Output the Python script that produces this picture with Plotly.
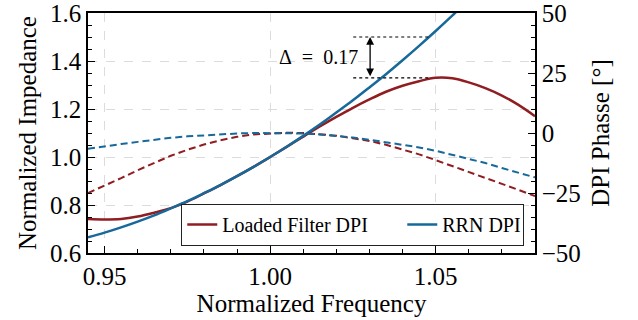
import plotly.graph_objects as go

# Normalized frequency samples
freq = [0.945, 0.950, 0.955, 0.960, 0.965, 0.970, 0.975, 0.980, 0.985, 0.990,
        0.995, 1.000, 1.005, 1.010, 1.015, 1.020, 1.025, 1.030, 1.035, 1.040,
        1.045, 1.050, 1.055, 1.060, 1.065, 1.070, 1.075, 1.080]

# Normalized impedance (left axis)
loaded_impedance = [0.742, 0.740, 0.742, 0.752, 0.768, 0.787, 0.814, 0.848, 0.883, 0.920,
                    0.959, 1.000, 1.042, 1.085, 1.127, 1.167, 1.205, 1.240, 1.272, 1.297,
                    1.316, 1.330, 1.328, 1.311, 1.287, 1.256, 1.217, 1.170]
rrn_impedance = [0.665, 0.685, 0.707, 0.731, 0.757, 0.786, 0.816, 0.849, 0.883, 0.920,
                 0.959, 1.000, 1.043, 1.088, 1.135, 1.185, 1.236, 1.290, 1.345, 1.403,
                 1.463, 1.525, 1.589, 1.655, 1.720, 1.790, 1.860, 1.930]

# DPI phase in degrees (right axis)
loaded_phase = [-25.0, -22.0, -18.8, -15.5, -12.4, -9.5, -7.0, -4.8, -3.0, -1.6,
                -0.6, -0.1, 0.1, 0.0, -0.4, -1.1, -2.2, -3.3, -4.9, -6.8,
                -8.9, -11.3, -13.7, -16.3, -18.8, -21.2, -23.7, -26.3]
rrn_phase = [-6.6, -5.5, -4.6, -3.7, -2.8, -2.0, -1.4, -0.9, -0.5, -0.2,
             0.0, 0.0, 0.0, -0.2, -0.6, -1.1, -1.9, -2.8, -3.8, -4.8,
             -6.0, -7.4, -9.0, -10.8, -12.5, -14.6, -16.5, -18.5]

# Tick positions and labels
freq_ticks = [0.95, 1.00, 1.05]
freq_labels = ["0.95", "1.00", "1.05"]
imp_ticks = [0.6, 0.8, 1.0, 1.2, 1.4, 1.6]
imp_labels = ["0.6", "0.8", "1.0", "1.2", "1.4", "1.6"]
phase_ticks = [-50, -25, 0, 25, 50]
phase_labels = ["\u221250", "\u221225", "0", "25", "50"]

# Impedance gap marker
delta_top = 1.50
delta_bottom = 1.33
delta_x = [1.0251, 1.0479]
delta_arrow_x = 1.0302

RED = "#8f1d21"
BLUE = "#16699a"
FONT = "'Liberation Serif', 'Times New Roman', serif"

fig = go.Figure()

fig.add_trace(go.Scatter(x=freq, y=loaded_phase, yaxis="y2", mode="lines",
                         line=dict(color=RED, width=2, dash="7px,4px"),
                         showlegend=False))
fig.add_trace(go.Scatter(x=freq, y=rrn_phase, yaxis="y2", mode="lines",
                         line=dict(color=BLUE, width=2, dash="7px,4px"),
                         showlegend=False))
fig.add_trace(go.Scatter(x=freq, y=loaded_impedance, mode="lines", line_shape="spline",
                         line=dict(color=RED, width=2.5), name="Loaded Filter DPI",
                         legendwidth=175))
fig.add_trace(go.Scatter(x=freq, y=rrn_impedance, mode="lines", line_shape="spline",
                         line=dict(color=BLUE, width=2.5), name="RRN DPI",
                         legendwidth=75))

# Dotted reference levels and double-headed arrow
for level in (delta_top, delta_bottom):
    fig.add_shape(type="line", x0=delta_x[0], x1=delta_x[1], y0=level, y1=level,
                  xref="x", yref="y", line=dict(color="black", width=1.2, dash="dot"))
fig.add_annotation(x=delta_arrow_x, y=delta_top, ax=delta_arrow_x, ay=delta_bottom,
                   xref="x", yref="y", axref="x", ayref="y", text="",
                   showarrow=True, arrowhead=2, arrowside="end+start",
                   arrowsize=1.2, arrowwidth=1.3, arrowcolor="black")
fig.add_annotation(x=1.0272, y=1.415, xref="x", yref="y", xanchor="right",
                   yanchor="middle", showarrow=False,
                   text=f"Δ\u2002=\u2002{delta_top - delta_bottom:.2f}",
                   font=dict(family=FONT, size=20, color="black"))

axis_common = dict(showline=True, linecolor="black", linewidth=1.5,
                   ticks="inside", ticklen=7, tickwidth=1.3, tickcolor="black",
                   tickfont=dict(family=FONT, size=25, color="black"),
                   zeroline=False, automargin=False, ticklabeloverflow="allow",
                   tickmode="array")

fig.update_layout(
    width=638, height=320,
    margin=dict(l=88, r=103, t=13, b=67, autoexpand=False),
    paper_bgcolor="white", plot_bgcolor="white",
    font=dict(family=FONT, color="black"),
    xaxis=dict(range=[0.945, 1.08], tickvals=freq_ticks, ticktext=freq_labels,
               mirror=True, showgrid=True, gridcolor="#dcdcdc", griddash="dash",
               gridwidth=1,
               minor=dict(dtick=0.01, tick0=0.95, ticks="inside", ticklen=4,
                          tickwidth=1.2, tickcolor="black", showgrid=False),
               title=dict(text="Normalized Frequency", font=dict(family=FONT, size=25),
                          standoff=5),
               **axis_common),
    yaxis=dict(range=[0.6, 1.6], tickvals=imp_ticks, ticktext=imp_labels,
               showgrid=True, gridcolor="#dcdcdc", griddash="dash", gridwidth=1,
               minor=dict(dtick=0.05, tick0=0.6, ticks="inside", ticklen=4,
                          tickwidth=1.2, tickcolor="black", showgrid=False),
               title=dict(text="Normalized Impedance", font=dict(family=FONT, size=25),
                          standoff=6),
               **axis_common),
    yaxis2=dict(range=[-50, 50], tickvals=phase_ticks, ticktext=phase_labels,
                overlaying="y", side="right", showgrid=False,
                minor=dict(dtick=5, tick0=-50, ticks="inside", ticklen=4,
                           tickwidth=1.2, tickcolor="black", showgrid=False),
                title=dict(text="DPI Phasse [°]", font=dict(family=FONT, size=25),
                           standoff=12),
                **axis_common),
    legend=dict(orientation="h", x=0.208, y=0.03, xanchor="left", yanchor="bottom",
                bgcolor="white", bordercolor="#222222", borderwidth=1.3,
                font=dict(family=FONT, size=20, color="black"),
                itemwidth=30, traceorder="normal"),
)

fig.write_html("out.html")
